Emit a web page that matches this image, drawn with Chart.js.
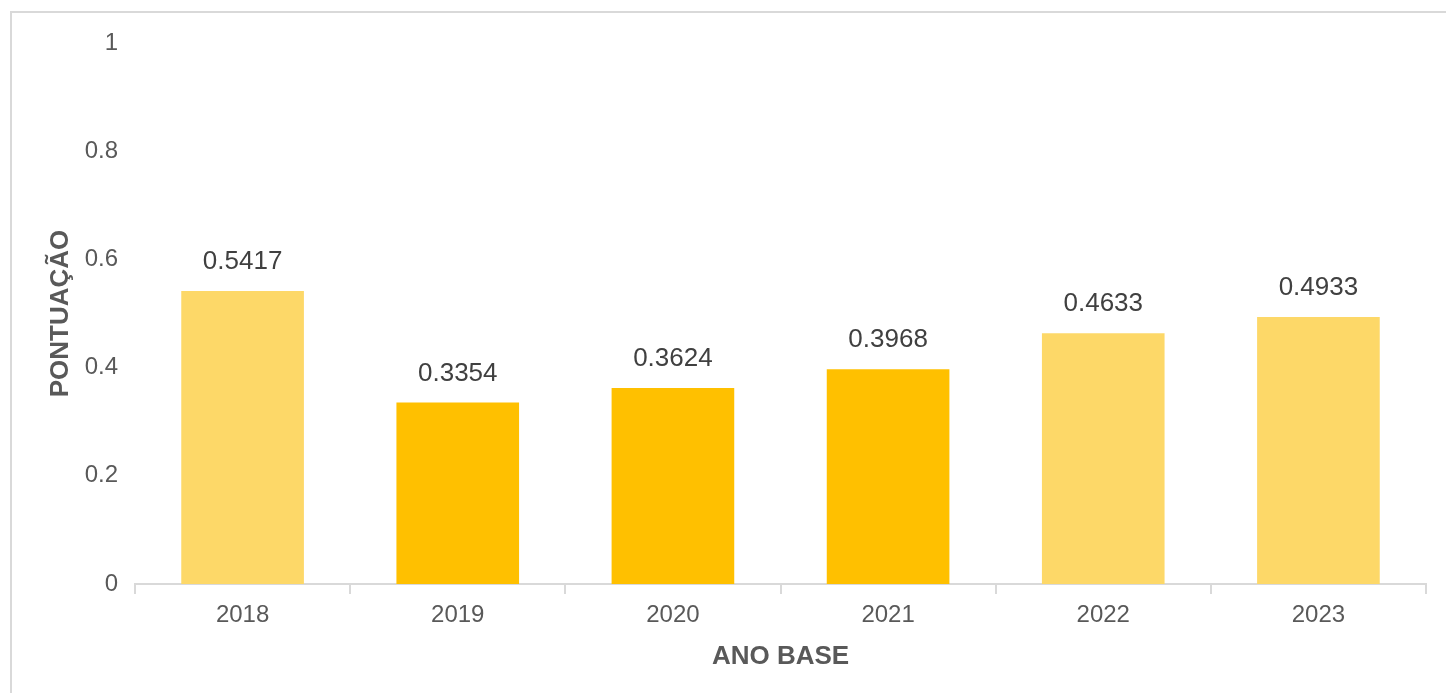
<!DOCTYPE html>
<html>
<head>
<meta charset="utf-8">
<script src="https://cdn.jsdelivr.net/npm/chart.js@4"></script>
<style>
  html, body { margin: 0; padding: 0; background: #fff; overflow: hidden; }
  #moldura { position: absolute; left: 10px; top: 11px; width: 1500px; height: 800px; border-top: 2px solid #d9d9d9; border-left: 2px solid #d9d9d9; }
  #caixa { position: absolute; left: 0; top: 0; width: 1446px; height: 693px; }
</style>
</head>
<body>
<div id="moldura"></div>
<div id="caixa"><canvas id="grafico"></canvas></div>
<script>
const anos = ["2018", "2019", "2020", "2021", "2022", "2023"];
const pontuacao = [0.5417, 0.3354, 0.3624, 0.3968, 0.4633, 0.4933];
const coresBarras = ["#fdd868", "#ffc000", "#ffc000", "#ffc000", "#fdd868", "#fdd868"];
const ticksY = [0, 0.2, 0.4, 0.6, 0.8, 1];

// escreve o valor em cima de cada barra
const rotulos = {
  id: "rotulos",
  afterDatasetsDraw(chart) {
    const ctx = chart.ctx;
    const meta = chart.getDatasetMeta(0);
    ctx.save();
    ctx.font = "26px 'Liberation Sans', Arial, sans-serif";
    ctx.fillStyle = "#404040";
    ctx.textAlign = "center";
    ctx.textBaseline = "alphabetic";
    meta.data.forEach((barra, i) => {
      ctx.fillText(pontuacao[i].toFixed(4), barra.x, barra.y - 22);
    });
    ctx.restore();
  },
};

function grafico() {
  const ctx = document.getElementById("grafico");
  new Chart(ctx, {
    type: "bar",
    data: {
      labels: anos,
      datasets: [
        {
          data: pontuacao,
          backgroundColor: coresBarras,
          barPercentage: 0.57,
          categoryPercentage: 1,
        },
      ],
    },
    plugins: [rotulos],
    options: {
      responsive: true,
      maintainAspectRatio: false,
      animation: false,
      layout: { padding: { left: 45, right: 20, top: 43, bottom: 21 } },
      plugins: { legend: { display: false }, tooltip: { enabled: false } },
      scales: {
        x: {
          grid: { drawOnChartArea: false, drawTicks: true, tickLength: 10, color: "#d9d9d9", lineWidth: 2 },
          border: { color: "#d9d9d9", width: 2 },
          ticks: { color: "#595959", font: { family: "'Liberation Sans', Arial", size: 24 }, padding: 7 },
          title: {
            display: true,
            text: "ANO BASE",
            color: "#595959",
            font: { family: "'Liberation Sans', Arial", size: 26, weight: "bold" },
            padding: { top: 4, bottom: 0 },
          },
        },
        y: {
          min: 0,
          max: 1,
          afterBuildTicks: (eixo) => {
            eixo.ticks = ticksY.map((v) => ({ value: v }));
          },
          afterFit: (eixo) => {
            eixo.width = 90;
          },
          grid: { display: false },
          border: { display: false },
          ticks: {
            color: "#595959",
            font: { family: "'Liberation Sans', Arial", size: 24 },
            padding: 9,
            callback: (v) => String(v),
          },
          title: {
            display: true,
            text: "PONTUAÇÃO",
            color: "#595959",
            font: { family: "'Liberation Sans', Arial", size: 26, weight: "bold" },
            padding: { top: 0, bottom: 0 },
          },
        },
      },
    },
  });
}

grafico();
</script>
</body>
</html>
